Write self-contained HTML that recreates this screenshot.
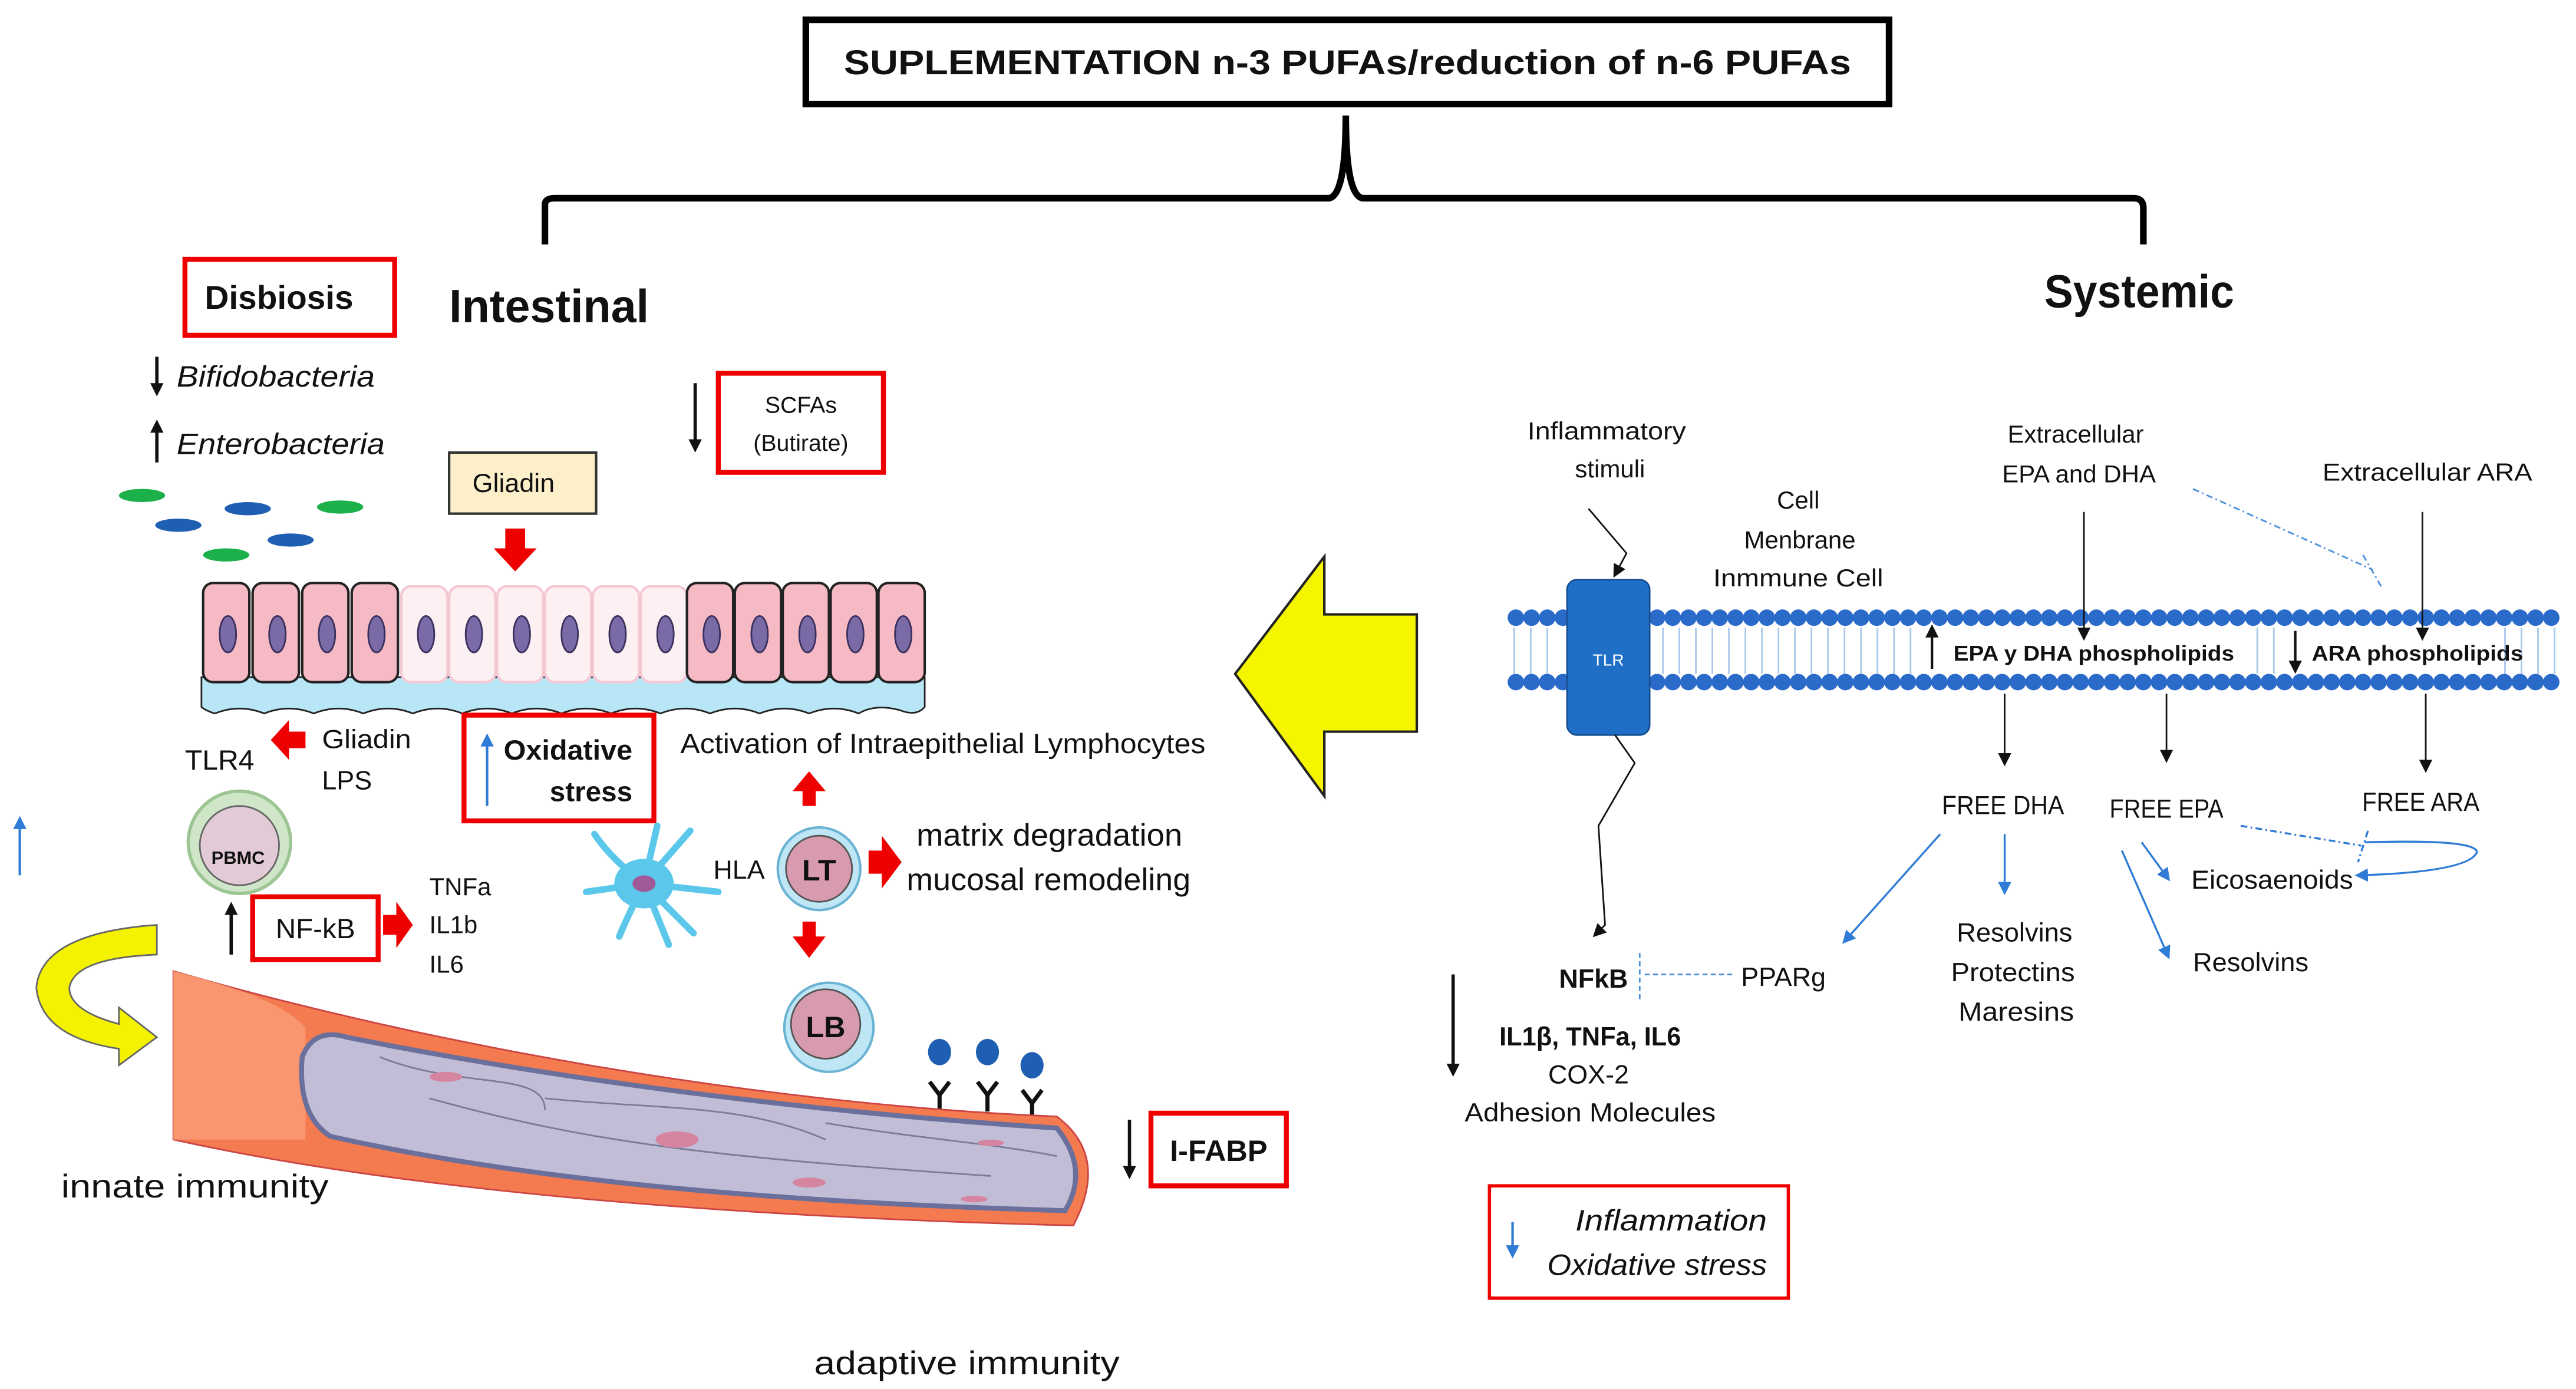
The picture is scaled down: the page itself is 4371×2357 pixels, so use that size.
<!DOCTYPE html>
<html><head><meta charset="utf-8"><style>
html,body{margin:0;padding:0;background:#fff}
svg{display:block}
text{font-family:"Liberation Sans",sans-serif;fill:#111}
</style></head><body>
<svg width="4371" height="2357" viewBox="0 0 1560 841" preserveAspectRatio="none" xmlns="http://www.w3.org/2000/svg">
<defs>
<marker id="ab" markerWidth="8" markerHeight="8" refX="6" refY="4" orient="auto" markerUnits="userSpaceOnUse"><path d="M0,0 L8,4 L0,8 Z" fill="#111"/></marker>
<marker id="ablue" markerWidth="8" markerHeight="8" refX="6" refY="4" orient="auto" markerUnits="userSpaceOnUse"><path d="M0,0 L8,4 L0,8 Z" fill="#2f7bd6"/></marker>
</defs>

<!-- Title -->
<rect x="488" y="12" width="656" height="51" fill="#fff" stroke="#000" stroke-width="4"/>
<text x="816" y="45" font-size="21" font-weight="bold" text-anchor="middle" textLength="610" lengthAdjust="spacingAndGlyphs">SUPLEMENTATION n-3 PUFAs/reduction of n-6 PUFAs</text>
<!-- brace -->
<path d="M330,148 V124 Q330,120 336,120 H805 Q815,118 815,70 Q815,118 825,120 H1292 Q1298,120 1298,126 V148" fill="none" stroke="#000" stroke-width="4"/>

<text x="272" y="195" font-size="28" font-weight="bold" textLength="121" lengthAdjust="spacingAndGlyphs">Intestinal</text>
<text x="1238" y="186" font-size="28" font-weight="bold" textLength="115" lengthAdjust="spacingAndGlyphs">Systemic</text>

<!-- Disbiosis -->
<rect x="112" y="157" width="127" height="46" fill="none" stroke="#e00" stroke-width="3"/>
<text x="124" y="187" font-size="20" font-weight="bold" textLength="90" lengthAdjust="spacingAndGlyphs">Disbiosis</text>
<line x1="95" y1="216" x2="95" y2="238" stroke="#111" stroke-width="2" marker-end="url(#ab)"/>
<text x="107" y="234" font-size="18" font-style="italic" textLength="120" lengthAdjust="spacingAndGlyphs">Bifidobacteria</text>
<line x1="95" y1="280" x2="95" y2="256" stroke="#111" stroke-width="2" marker-end="url(#ab)"/>
<text x="107" y="275" font-size="18" font-style="italic" textLength="126" lengthAdjust="spacingAndGlyphs">Enterobacteria</text>
<ellipse cx="86" cy="300" rx="14" ry="4" fill="#1cb04b"/>
<ellipse cx="150" cy="308" rx="14" ry="4" fill="#1e5fb4"/>
<ellipse cx="206" cy="307" rx="14" ry="4" fill="#1cb04b"/>
<ellipse cx="108" cy="318" rx="14" ry="4" fill="#1e5fb4"/>
<ellipse cx="176" cy="327" rx="14" ry="4" fill="#1e5fb4"/>
<ellipse cx="137" cy="336" rx="14" ry="4" fill="#1cb04b"/>

<!-- SCFAs -->
<rect x="435" y="226" width="100" height="60" fill="none" stroke="#e00" stroke-width="3"/>
<text x="485" y="250" font-size="14" text-anchor="middle">SCFAs</text>
<text x="485" y="273" font-size="14" text-anchor="middle">(Butirate)</text>
<line x1="421" y1="232" x2="421" y2="272" stroke="#111" stroke-width="2" marker-end="url(#ab)"/>

<!-- Gliadin -->
<rect x="272" y="274" width="89" height="37" fill="#fdefc9" stroke="#333" stroke-width="1.5"/>
<text x="311" y="298" font-size="16" text-anchor="middle">Gliadin</text>
<path d="M306,320 H318 V332 H325 L312,346 L299,332 H306 Z" fill="#e00"/>

<!-- Epithelium -->
<path d="M122,410 H560 V428 Q555,434 545,430 Q530,426 520,432 Q505,426 490,432 Q475,426 460,432 Q445,426 430,432 Q415,426 400,432 Q385,426 370,432 Q355,426 340,432 Q325,426 310,432 Q295,426 280,432 Q265,426 250,432 Q235,426 220,432 Q205,426 190,432 Q175,426 160,432 Q145,426 130,432 Q124,430 122,428 Z" fill="#b8e6f6" stroke="#222" stroke-width="1"/>
<g stroke="#222" stroke-width="1.5">
<rect x="123" y="353" width="28" height="60" rx="6" fill="#f6bac5"/>
<rect x="153" y="353" width="28" height="60" rx="6" fill="#f6bac5"/>
<rect x="183" y="353" width="28" height="60" rx="6" fill="#f6bac5"/>
<rect x="213" y="353" width="28" height="60" rx="6" fill="#f6bac5"/>
<rect x="243" y="355" width="28" height="58" rx="6" fill="#fdf0f3" stroke="#f4c8d2"/>
<rect x="272" y="355" width="28" height="58" rx="6" fill="#fdf0f3" stroke="#f4c8d2"/>
<rect x="301" y="355" width="28" height="58" rx="6" fill="#fdf0f3" stroke="#f4c8d2"/>
<rect x="330" y="355" width="28" height="58" rx="6" fill="#fdf0f3" stroke="#f4c8d2"/>
<rect x="359" y="355" width="28" height="58" rx="6" fill="#fdf0f3" stroke="#f4c8d2"/>
<rect x="388" y="355" width="28" height="58" rx="6" fill="#fdf0f3" stroke="#f4c8d2"/>
<rect x="416" y="353" width="28" height="60" rx="6" fill="#f6bac5"/>
<rect x="445" y="353" width="28" height="60" rx="6" fill="#f6bac5"/>
<rect x="474" y="353" width="28" height="60" rx="6" fill="#f6bac5"/>
<rect x="503" y="353" width="28" height="60" rx="6" fill="#f6bac5"/>
<rect x="532" y="353" width="28" height="60" rx="6" fill="#f6bac5"/>
</g>
<g fill="#7a6aa6" stroke="#3b2f5e" stroke-width="1">
<ellipse cx="138" cy="384" rx="5" ry="11"/><ellipse cx="168" cy="384" rx="5" ry="11"/><ellipse cx="198" cy="384" rx="5" ry="11"/><ellipse cx="228" cy="384" rx="5" ry="11"/>
<ellipse cx="258" cy="384" rx="5" ry="11"/><ellipse cx="287" cy="384" rx="5" ry="11"/><ellipse cx="316" cy="384" rx="5" ry="11"/><ellipse cx="345" cy="384" rx="5" ry="11"/><ellipse cx="374" cy="384" rx="5" ry="11"/><ellipse cx="403" cy="384" rx="5" ry="11"/>
<ellipse cx="431" cy="384" rx="5" ry="11"/><ellipse cx="460" cy="384" rx="5" ry="11"/><ellipse cx="489" cy="384" rx="5" ry="11"/><ellipse cx="518" cy="384" rx="5" ry="11"/><ellipse cx="547" cy="384" rx="5" ry="11"/>
</g>

<!-- TLR4 / Gliadin LPS -->
<path d="M185,443 H175 V436 L164,448 L175,460 V453 H185 Z" fill="#e00"/>
<text x="195" y="453" font-size="16" textLength="54" lengthAdjust="spacingAndGlyphs">Gliadin</text>
<text x="195" y="478" font-size="16">LPS</text>
<text x="112" y="466" font-size="17" textLength="42" lengthAdjust="spacingAndGlyphs">TLR4</text>

<!-- Oxidative stress -->
<rect x="281" y="433" width="115" height="64" fill="none" stroke="#e00" stroke-width="3"/>
<line x1="295" y1="488" x2="295" y2="446" stroke="#2f7bd6" stroke-width="1.5" marker-end="url(#ablue)"/>
<text x="383" y="460" font-size="17" font-weight="bold" text-anchor="end" textLength="78" lengthAdjust="spacingAndGlyphs">Oxidative</text>
<text x="383" y="485" font-size="17" font-weight="bold" text-anchor="end">stress</text>
<text x="412" y="456" font-size="17" textLength="318" lengthAdjust="spacingAndGlyphs">Activation of Intraepithelial Lymphocytes</text>
<path d="M486,488 V479 H480 L490,467 L500,479 H494 V488 Z" fill="#e00"/>

<line x1="12" y1="530" x2="12" y2="496" stroke="#2f7bd6" stroke-width="1.5" marker-end="url(#ablue)"/>

<!-- PBMC -->
<circle cx="145" cy="510" r="31" fill="#cfe6c9" stroke="#9cc593" stroke-width="2"/>
<circle cx="145" cy="512" r="24" fill="#e2cbd6" stroke="#666" stroke-width="1"/>
<text x="128" y="523" font-size="11" font-weight="bold">PBMC</text>

<!-- NF-kB -->
<rect x="153" y="543" width="76" height="38" fill="none" stroke="#e00" stroke-width="3"/>
<text x="191" y="568" font-size="17" text-anchor="middle">NF-kB</text>
<line x1="140" y1="578" x2="140" y2="548" stroke="#111" stroke-width="2" marker-end="url(#ab)"/>
<path d="M232,554 H240 V546 L250,560 L240,574 V566 H232 Z" fill="#e00"/>
<text x="260" y="542" font-size="15">TNFa</text>
<text x="260" y="565" font-size="15">IL1b</text>
<text x="260" y="589" font-size="15">IL6</text>

<!-- dendritic cell -->
<g stroke="#5bc7ea" stroke-width="4" stroke-linecap="round" fill="none">
<path d="M390,535 Q370,520 360,505"/><path d="M390,535 L355,540"/><path d="M390,535 Q380,555 375,567"/><path d="M390,535 L405,572"/><path d="M390,535 L418,503"/><path d="M390,535 L435,540"/><path d="M390,535 L398,500"/><path d="M390,535 L420,565"/>
</g>
<ellipse cx="390" cy="535" rx="18" ry="15" fill="#5bc7ea"/>
<ellipse cx="390" cy="535" rx="7" ry="5" fill="#a05a98"/>
<text x="432" y="532" font-size="16">HLA</text>

<!-- LT -->
<circle cx="496" cy="526" r="25" fill="#bfe6f5" stroke="#6bb3d3" stroke-width="1.5"/>
<circle cx="496" cy="526" r="20" fill="#d89aae" stroke="#555" stroke-width="1"/>
<text x="496" y="533" font-size="18" font-weight="bold" text-anchor="middle">LT</text>
<path d="M526,515 H534 V506 L546,522 L534,538 V529 H526 Z" fill="#e00"/>
<text x="555" y="512" font-size="19" textLength="161" lengthAdjust="spacingAndGlyphs">matrix degradation</text>
<text x="549" y="539" font-size="19" textLength="172" lengthAdjust="spacingAndGlyphs">mucosal remodeling</text>
<path d="M486,558 V567 H480 L490,580 L500,567 H494 V558 Z" fill="#e00"/>

<!-- LB -->
<circle cx="502" cy="622" r="27" fill="#bfe6f5" stroke="#6bb3d3" stroke-width="1.5"/>
<circle cx="500" cy="620" r="21" fill="#d89aae" stroke="#555" stroke-width="1"/>
<text x="500" y="628" font-size="18" font-weight="bold" text-anchor="middle">LB</text>

<!-- antibodies -->
<g fill="#1e5fb4"><ellipse cx="569" cy="637" rx="7" ry="8"/><ellipse cx="598" cy="637" rx="7" ry="8"/><ellipse cx="625" cy="645" rx="7" ry="8"/></g>
<g stroke="#111" stroke-width="2.5" fill="none">
<path d="M563,655 L569,663 L575,655 M569,663 V673"/>
<path d="M592,655 L598,663 L604,655 M598,663 V673"/>
<path d="M619,660 L625,668 L631,660 M625,668 V678"/>
</g>

<!-- yellow curved arrow -->
<path d="M95,560 L95,578 Q45,580 42,598 Q42,612 72,620 L72,610 L95,628 L72,645 L72,635 Q25,628 22,598 Q25,565 95,560 Z" fill="#f5f200" stroke="#666" stroke-width="1"/>

<!-- vessel -->
<path d="M105,588 C250,630 450,668 640,676 Q672,700 650,742 C450,737 250,722 105,690 Z" fill="#f47a4f" stroke="#c44" stroke-width="1"/>
<path d="M105,588 C160,602 175,612 185,622 L185,690 L105,690 Z" fill="#f99670"/>
<path d="M183,640 Q190,622 210,628 C320,650 470,672 640,683 Q660,708 645,733 C470,728 320,715 200,688 Q180,675 183,640 Z" fill="#c1bdd6" stroke="#6a6f9b" stroke-width="3"/>
<g stroke="#7a7a99" stroke-width="1" fill="none">
<path d="M230,640 C280,660 330,648 330,672"/><path d="M330,665 C400,672 450,668 500,690"/><path d="M500,680 C560,690 600,692 640,700"/><path d="M260,665 C350,690 420,700 600,712"/>
</g>
<g fill="#d685a0"><ellipse cx="270" cy="652" rx="10" ry="3"/><ellipse cx="410" cy="690" rx="13" ry="5"/><ellipse cx="490" cy="716" rx="10" ry="3"/><ellipse cx="600" cy="692" rx="8" ry="2"/><ellipse cx="590" cy="726" rx="8" ry="2"/></g>

<!-- I-FABP -->
<rect x="697" y="674" width="82" height="44" fill="none" stroke="#e00" stroke-width="3"/>
<text x="738" y="703" font-size="18" font-weight="bold" text-anchor="middle">I-FABP</text>
<line x1="684" y1="678" x2="684" y2="712" stroke="#111" stroke-width="2" marker-end="url(#ab)"/>

<text x="37" y="725" font-size="20" textLength="162" lengthAdjust="spacingAndGlyphs">innate immunity</text>
<text x="493" y="832" font-size="20" textLength="185" lengthAdjust="spacingAndGlyphs">adaptive immunity</text>

<!-- Big yellow arrow -->
<polygon points="748,408 802,337 802,372 858,372 858,443 802,443 802,482" fill="#f5f500" stroke="#222" stroke-width="1.5"/>

<!-- Membrane -->
<g stroke="#a9c8ec" stroke-width="1">
<path d="M917,380 V408 M927,380 V408 M937,380 V408 M1007,380 V408 M1017,380 V408 M1027,380 V408 M1037,380 V408 M1047,380 V408 M1057,380 V408 M1067,380 V408 M1077,380 V408 M1087,380 V408 M1097,380 V408 M1107,380 V408 M1117,380 V408 M1127,380 V408 M1137,380 V408 M1147,380 V408 M1157,380 V408 M1367,380 V408 M1377,380 V408 M1517,380 V408 M1527,380 V408 M1537,380 V408 M1547,380 V408"/>
</g>
<line x1="918" y1="374" x2="1552" y2="374" stroke="#2a6ac9" stroke-width="10" stroke-dasharray="0 9.5" stroke-linecap="round"/>
<line x1="918" y1="413" x2="1552" y2="413" stroke="#2a6ac9" stroke-width="10" stroke-dasharray="0 9.5" stroke-linecap="round"/>
<rect x="949" y="351" width="50" height="94" rx="6" fill="#1f6fc7" stroke="#154e91" stroke-width="1"/>
<text x="974" y="403" font-size="10" text-anchor="middle" style="fill:#fff">TLR</text>

<text x="973" y="266" font-size="15" text-anchor="middle" textLength="96" lengthAdjust="spacingAndGlyphs">Inflammatory</text>
<text x="975" y="289" font-size="15" text-anchor="middle">stimuli</text>
<path d="M962,308 L985,335 L978,348" fill="none" stroke="#111" stroke-width="1" marker-end="url(#ab)"/>
<text x="1089" y="308" font-size="15" text-anchor="middle">Cell</text>
<text x="1090" y="332" font-size="15" text-anchor="middle">Menbrane</text>
<text x="1089" y="355" font-size="15" text-anchor="middle" textLength="103" lengthAdjust="spacingAndGlyphs">Inmmune Cell</text>
<text x="1257" y="268" font-size="15" text-anchor="middle">Extracellular</text>
<text x="1259" y="292" font-size="15" text-anchor="middle">EPA and DHA</text>
<text x="1470" y="291" font-size="15" text-anchor="middle" textLength="127" lengthAdjust="spacingAndGlyphs">Extracellular ARA</text>
<line x1="1262" y1="310" x2="1262" y2="386" stroke="#111" stroke-width="1" marker-end="url(#ab)"/>
<line x1="1467" y1="310" x2="1467" y2="386" stroke="#111" stroke-width="1" marker-end="url(#ab)"/>
<path d="M1328,296 L1437,345 M1431,336 L1442,355" stroke="#4a8fd8" stroke-width="1" stroke-dasharray="4 2 1 2" fill="none"/>
<line x1="1170" y1="405" x2="1170" y2="380" stroke="#111" stroke-width="1.5" marker-end="url(#ab)"/>
<text x="1183" y="400" font-size="13" font-weight="bold" textLength="170" lengthAdjust="spacingAndGlyphs">EPA y DHA  phospholipids</text>
<line x1="1390" y1="382" x2="1390" y2="406" stroke="#111" stroke-width="1.5" marker-end="url(#ab)"/>
<text x="1400" y="400" font-size="13" font-weight="bold" textLength="128" lengthAdjust="spacingAndGlyphs">ARA  phospholipids</text>

<line x1="1214" y1="420" x2="1214" y2="462" stroke="#111" stroke-width="1" marker-end="url(#ab)"/>
<line x1="1312" y1="420" x2="1312" y2="460" stroke="#111" stroke-width="1" marker-end="url(#ab)"/>
<line x1="1469" y1="420" x2="1469" y2="466" stroke="#111" stroke-width="1" marker-end="url(#ab)"/>
<path d="M978,445 L990,462 L968,500 L972,560 L966,566" fill="none" stroke="#111" stroke-width="1" marker-end="url(#ab)"/>

<text x="1213" y="493" font-size="16" text-anchor="middle" textLength="74" lengthAdjust="spacingAndGlyphs">FREE DHA</text>
<text x="1312" y="495" font-size="16" text-anchor="middle" textLength="69" lengthAdjust="spacingAndGlyphs">FREE EPA</text>
<text x="1466" y="491" font-size="16" text-anchor="middle" textLength="71" lengthAdjust="spacingAndGlyphs">FREE ARA</text>

<g stroke="#2f7bd6" stroke-width="1.2" fill="none">
<line x1="1175" y1="505" x2="1117" y2="570" marker-end="url(#ablue)"/>
<line x1="1214" y1="505" x2="1214" y2="540" marker-end="url(#ablue)"/>
<line x1="1297" y1="510" x2="1313" y2="532" marker-end="url(#ablue)"/>
<line x1="1285" y1="515" x2="1313" y2="579" marker-end="url(#ablue)"/>
<path d="M1357,500 L1430,512 M1434,503 L1428,522" stroke-dasharray="4 2 1 2"/>
<path d="M1432,510 Q1500,508 1500,516 Q1495,528 1428,530" marker-end="url(#ablue)"/>
</g>
<text x="1376" y="538" font-size="16" text-anchor="middle" textLength="98" lengthAdjust="spacingAndGlyphs">Eicosaenoids</text>
<text x="1363" y="588" font-size="16" text-anchor="middle" textLength="70" lengthAdjust="spacingAndGlyphs">Resolvins</text>
<text x="1220" y="570" font-size="16" text-anchor="middle" textLength="70" lengthAdjust="spacingAndGlyphs">Resolvins</text>
<text x="1219" y="594" font-size="16" text-anchor="middle" textLength="75" lengthAdjust="spacingAndGlyphs">Protectins</text>
<text x="1221" y="618" font-size="16" text-anchor="middle" textLength="70" lengthAdjust="spacingAndGlyphs">Maresins</text>

<text x="965" y="598" font-size="16" font-weight="bold" text-anchor="middle">NFkB</text>
<path d="M993,577 V607 M996,590 H1050" stroke="#4a8fd8" stroke-width="1" stroke-dasharray="3 2" fill="none"/>
<text x="1080" y="597" font-size="16" text-anchor="middle">PPARg</text>
<line x1="880" y1="590" x2="880" y2="650" stroke="#111" stroke-width="2" marker-end="url(#ab)"/>
<text x="963" y="633" font-size="16" font-weight="bold" text-anchor="middle" textLength="110" lengthAdjust="spacingAndGlyphs">IL1β, TNFa, IL6</text>
<text x="962" y="656" font-size="16" text-anchor="middle">COX-2</text>
<text x="963" y="679" font-size="16" text-anchor="middle" textLength="152" lengthAdjust="spacingAndGlyphs">Adhesion Molecules</text>

<rect x="902" y="718" width="181" height="68" fill="none" stroke="#e00" stroke-width="2"/>
<line x1="916" y1="740" x2="916" y2="760" stroke="#2f7bd6" stroke-width="1.5" marker-end="url(#ablue)"/>
<text x="1070" y="745" font-size="18" font-style="italic" text-anchor="end" textLength="116" lengthAdjust="spacingAndGlyphs">Inflammation</text>
<text x="1070" y="772" font-size="18" font-style="italic" text-anchor="end" textLength="133" lengthAdjust="spacingAndGlyphs">Oxidative stress</text>
</svg>
</body></html>
